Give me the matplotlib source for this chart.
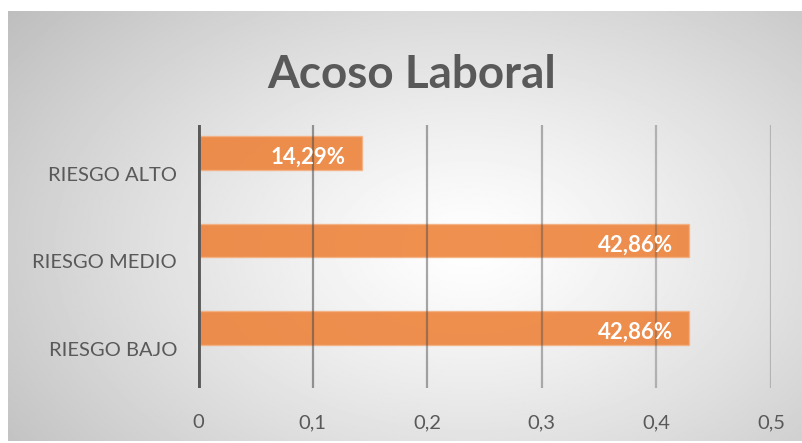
import numpy as np
import matplotlib.pyplot as plt
from matplotlib.transforms import ScaledTranslation

# datos del grafico
categorias = ["RIESGO BAJO", "RIESGO MEDIO", "RIESGO ALTO"]
valores = [0.4286, 0.4286, 0.1429]
etiquetas = ["42,86%", "42,86%", "14,29%"]
xticks = [0, 0.1, 0.2, 0.3, 0.4, 0.5]
xtick_labels = ["0", "0,1", "0,2", "0,3", "0,4", "0,5"]

fuente = ["Lato", "DejaVu Sans"]
gris_texto = "#595959"
naranja = "#ED7D31"

fig = plt.figure(figsize=(8.03, 4.43), dpi=100)
fig.patch.set_facecolor("white")

# fondo con degradado radial (blanco al centro, gris en los bordes)
bg = fig.add_axes([8 / 803, 2 / 443, 795 / 803, 430 / 443])
yy, xx = np.mgrid[0:1:300j, 0:1:500j]
r = np.sqrt(((xx - 0.58) / 0.75) ** 2 + ((yy - 0.55) / 0.9) ** 2)
r = np.clip(r, 0, 1)
tono = 1.0 - 0.26 * r ** 1.2
bg.imshow(tono, cmap="gray", vmin=0, vmax=1, aspect="auto", extent=[0, 1, 0, 1])
bg.axis("off")

ax = fig.add_axes([198 / 803, 1 - 388 / 443, 573 / 803, 263 / 443])
ax.set_facecolor("none")
pos = np.arange(len(categorias))

# lineas de cuadricula
for i, t in enumerate(xticks[1:]):
    ax.axvline(t, color="#4a4a4a", lw=1.6, alpha=0.55 - 0.07 * i, zorder=3)

ax.barh(pos, valores, height=0.38, color=naranja, alpha=0.85,
        edgecolor="#F4B183", linewidth=1, zorder=2)

for p, v, lab in zip(pos, valores, etiquetas):
    ax.text(v - 0.014, p - 0.05, lab, ha="right", va="center", color="white",
            fontsize=16, fontweight="bold", family=fuente, zorder=4)

ax.axvline(0, color="#595959", lw=3.5, zorder=5)

ax.set_xlim(0, 0.5)
ax.set_ylim(-0.686, 2.32)
ax.set_yticks(pos)
ax.set_yticklabels(categorias, fontsize=14.5, color=gris_texto, family=fuente)
ax.set_xticks(xticks)
ax.set_xticklabels(xtick_labels, fontsize=14.5, color=gris_texto, family=fuente)
ax.tick_params(axis="both", length=0)
ax.tick_params(axis="y", pad=15)
ax.tick_params(axis="x", pad=19)
for s in ax.spines.values():
    s.set_visible(False)

# en el original las etiquetas de categoria quedan algo por debajo de la barra
desplaza = ScaledTranslation(0, -0.21, fig.dpi_scale_trans)
for lbl in ax.get_yticklabels():
    lbl.set_transform(lbl.get_transform() + desplaza)

fig.text(412 / 803, 1 - 75 / 443, "Acoso Laboral", ha="center", va="center",
         fontsize=33, fontweight="bold", color=gris_texto, family=fuente)

fig.savefig("out.png", dpi=100)
